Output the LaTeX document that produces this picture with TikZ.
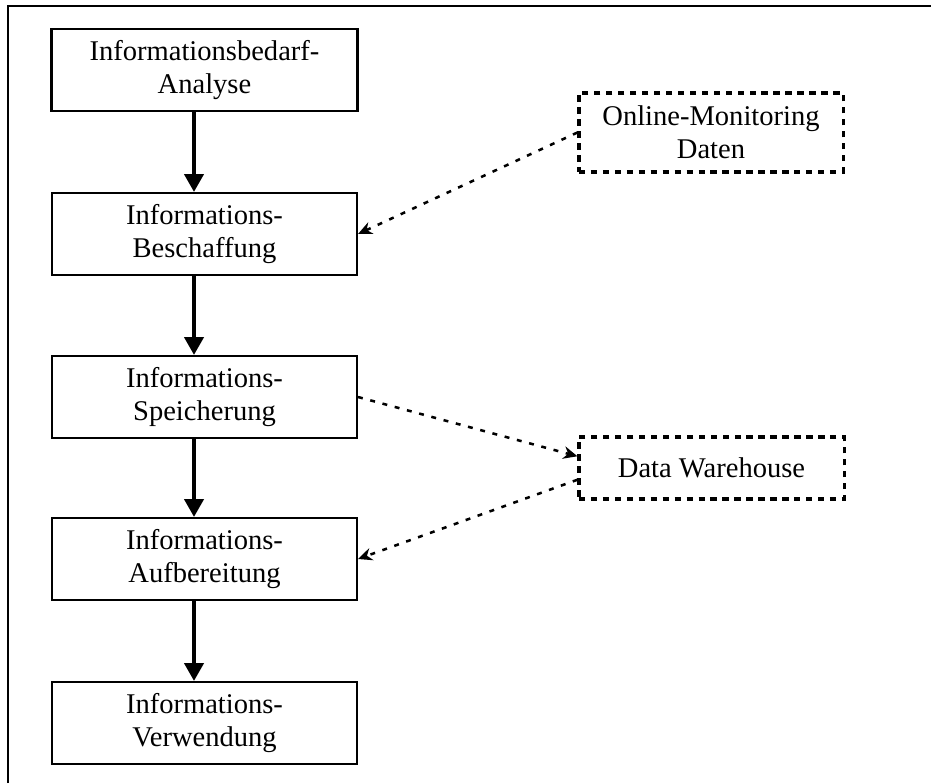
\documentclass[tikz,border=0pt]{standalone}
\usepackage{fontspec}
\setmainfont{Liberation Serif}
\usetikzlibrary{arrows.meta}

\begin{document}
\begin{tikzpicture}[x=0.025cm, y=-0.025cm, >=Stealth,
    font=\fontsize{20.3}{23.5}\selectfont,
    phase/.style={draw, line width=1.4pt, align=center, inner sep=0pt,
      minimum width=7.625cm, minimum height=2.05cm},
    source/.style={draw, line width=2.2pt, dash pattern=on 4.5pt off 4pt,
      align=center, inner sep=0pt},
    flow/.style={line width=3pt, -{Triangle[length=12.8pt, width=13.5pt]}},
    feed/.style={line width=1.8pt, dash pattern=on 3.5pt off 5.5pt,
      -{Stealth[length=10pt, width=9pt]}}]
  \useasboundingbox (0,0) rectangle (931,783);
  % frame
  \draw[line width=1.4pt] (8,783) -- (8,6) -- (931,6);
  % phases
  \node[phase, line width=2.1pt] (bedarf) at (204.5,70) {Informationsbedarf-\\Analyse};
  \node[phase] (beschaffung) at (204.5,234) {Informations-\\Beschaffung};
  \node[phase] (speicherung) at (204.5,397) {Informations-\\Speicherung};
  \node[phase] (aufbereitung) at (204.5,559) {Informations-\\Aufbereitung};
  \node[phase] (verwendung) at (204.5,723) {Informations-\\Verwendung};
  % sources
  \node[source, minimum width=6.6cm, minimum height=1.975cm] (monitoring) at (711,132.5) {Online-Monitoring\\Daten};
  \node[source, minimum width=6.625cm, minimum height=1.55cm] (warehouse) at (711.5,468) {Data Warehouse};
  % main flow
  \coordinate (flowx) at (194,0);
  \foreach \a/\b in {bedarf/beschaffung, beschaffung/speicherung,
      speicherung/aufbereitung, aufbereitung/verwendung}
    \draw[flow] (\a.south -| flowx) -- (\b.north -| flowx);
  % dashed links
  \draw[feed] (monitoring.west) -- (beschaffung.east);
  \draw[feed] (speicherung.east) -- (warehouse.175);
  \draw[feed] (warehouse.185) -- (aufbereitung.east);
\end{tikzpicture}
\end{document}
